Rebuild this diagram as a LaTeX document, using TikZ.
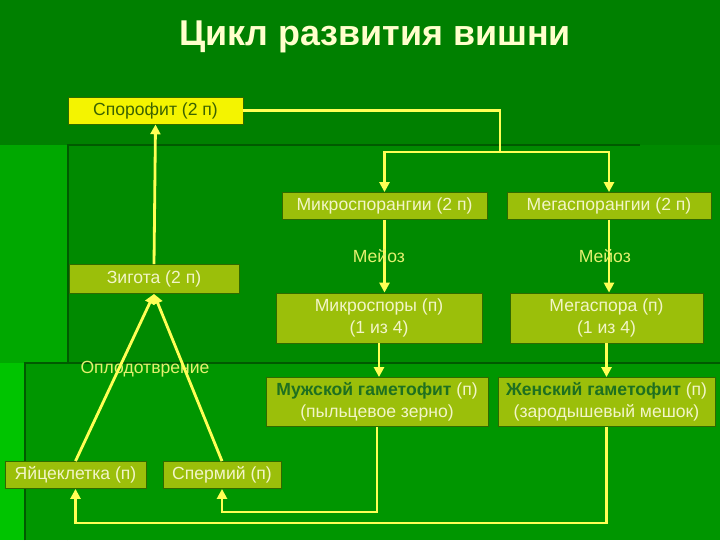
\documentclass[tikz,border=0pt]{standalone}
\usepackage{fontspec}
\setmainfont{Liberation Sans}
\usepackage{tikz}
\usetikzlibrary{arrows.meta,positioning}
\usepackage{xcolor}
\definecolor{bgtop}{HTML}{008000}
\definecolor{bgside}{HTML}{00A800}
\definecolor{bgbright}{HTML}{00C400}
\definecolor{panela}{HTML}{008A00}
\definecolor{panelb}{HTML}{009600}
\definecolor{paneledge}{HTML}{005A00}
\definecolor{sporyellow}{HTML}{F4F400}
\definecolor{olivefill}{HTML}{9BBF0A}
\definecolor{boxedge}{HTML}{2F6A00}
\definecolor{darkleaf}{HTML}{3B6300}
\definecolor{cream}{HTML}{F2F5C8}
\definecolor{gamgreen}{HTML}{1E7020}
\definecolor{lineyellow}{HTML}{FFFF55}
\definecolor{labelyellow}{HTML}{E4F070}
\definecolor{titlecream}{HTML}{FFFFCC}
\newcommand\boxfont{\fontsize{12.5}{15.5}\selectfont}
\def\pxu{0.025cm}
\tikzset{
  sporbox/.style={rectangle,draw=boxedge,fill=sporyellow,text=darkleaf,
    minimum height=27*\pxu,inner sep=0pt,font=\boxfont,line width=0.6pt},
  stagebox/.style={rectangle,draw=boxedge,fill=olivefill,text=cream,
    minimum height=27*\pxu,inner sep=0pt,align=center,font=\boxfont,
    line width=0.6pt},
  cycline/.style={line width=2pt,color=lineyellow},
  cycedge/.style={-{Triangle[length=7pt,width=7pt]},line width=2pt,
    color=lineyellow},
  steplabel/.style={font=\boxfont,text=labelyellow,inner sep=1pt},
  titletext/.style={font=\fontsize{25.5}{30}\selectfont\bfseries,text=titlecream},
}

\begin{document}
\begin{tikzpicture}[x=0.025cm,y=-0.025cm]
  \useasboundingbox (0,0) rectangle (720,540);
  % background panels
  \fill[bgtop] (0,0) rectangle (720,540);
  \fill[bgside] (0,145) rectangle (68,540);
  \fill[panela] (68,145) rectangle (720,540);
  \draw[paneledge,line width=1.5pt] (68,540) -- (68,145) -- (640,145);
  \fill[bgbright] (0,363) rectangle (25,540);
  \fill[panelb] (25,363) rectangle (720,540);
  \draw[paneledge,line width=1.5pt] (25,540) -- (25,363) -- (720,363);

  \node[titletext] (title) at (375,37) {Цикл развития вишни};

  % boxes
  \node[sporbox,minimum width=175*\pxu] (spor) at (155.5,110.5) {Спорофит (2 п)};
  \node[stagebox,minimum width=170*\pxu,minimum height=29*\pxu] (zyg) at (154,279) {Зигота (2 п)};
  \node[stagebox,minimum width=205*\pxu] (micsporang) at (384.5,206) {Микроспорангии (2 п)};
  \node[stagebox,minimum width=204*\pxu] (megsporang) at (609,206) {Мегаспорангии (2 п)};
  \node[stagebox,minimum width=206*\pxu,minimum height=50*\pxu] (micspores) at (379,318) {Микроспоры (п)\\(1 из 4)};
  \node[stagebox,minimum width=193*\pxu,minimum height=50*\pxu] (megaspore) at (606.5,318) {Мегаспора (п)\\(1 из 4)};
  \node[stagebox,minimum width=222*\pxu,minimum height=49*\pxu] (malegam) at (377,402)
    {\textcolor{gamgreen}{\bfseries Мужской гаметофит} (п)\\(пыльцевое зерно)};
  \node[stagebox,minimum width=217*\pxu,minimum height=49*\pxu] (femgam) at (606.5,402)
    {\textcolor{gamgreen}{\bfseries Женский гаметофит} (п)\\(зародышевый мешок)};
  \node[stagebox,minimum width=141*\pxu] (egg) at (75.5,475) {Яйцеклетка (п)};
  \node[stagebox,minimum width=118*\pxu] (sperm) at (222,475) {Спермий (п)};
  \node[steplabel] (fertlabel) at (145,369) {Оплодотврение};

  % connectors
  \coordinate (split) at (500,152);
  \draw[cycline] (spor.east) -| (split);
  \draw[cycedge] (split) -| (micsporang.north);
  \draw[cycedge] (split) -| (megsporang.north);
  \draw[cycedge] (micsporang.south) -- node[steplabel,xshift=-4pt]{Мейоз} (micsporang.south |- micspores.north);
  \draw[cycedge] (megsporang.south) -- node[steplabel,xshift=-3pt]{Мейоз} (megsporang.south |- megaspore.north);
  \draw[cycedge] (micspores.south) -- (micspores.south |- malegam.north);
  \draw[cycedge] (megaspore.south) -- (megaspore.south |- femgam.north);
  \draw[cycedge] (malegam.south) -- ++(0,85) -| (sperm.south);
  \draw[cycedge] (femgam.south) -- ++(0,96) -| (egg.south);
  \draw[cycedge] (egg.north) -- (zyg.south);
  \draw[cycedge] (sperm.north) -- (zyg.south);
  \draw[cycedge] (zyg.north) -- (spor.south);
\end{tikzpicture}
\end{document}
